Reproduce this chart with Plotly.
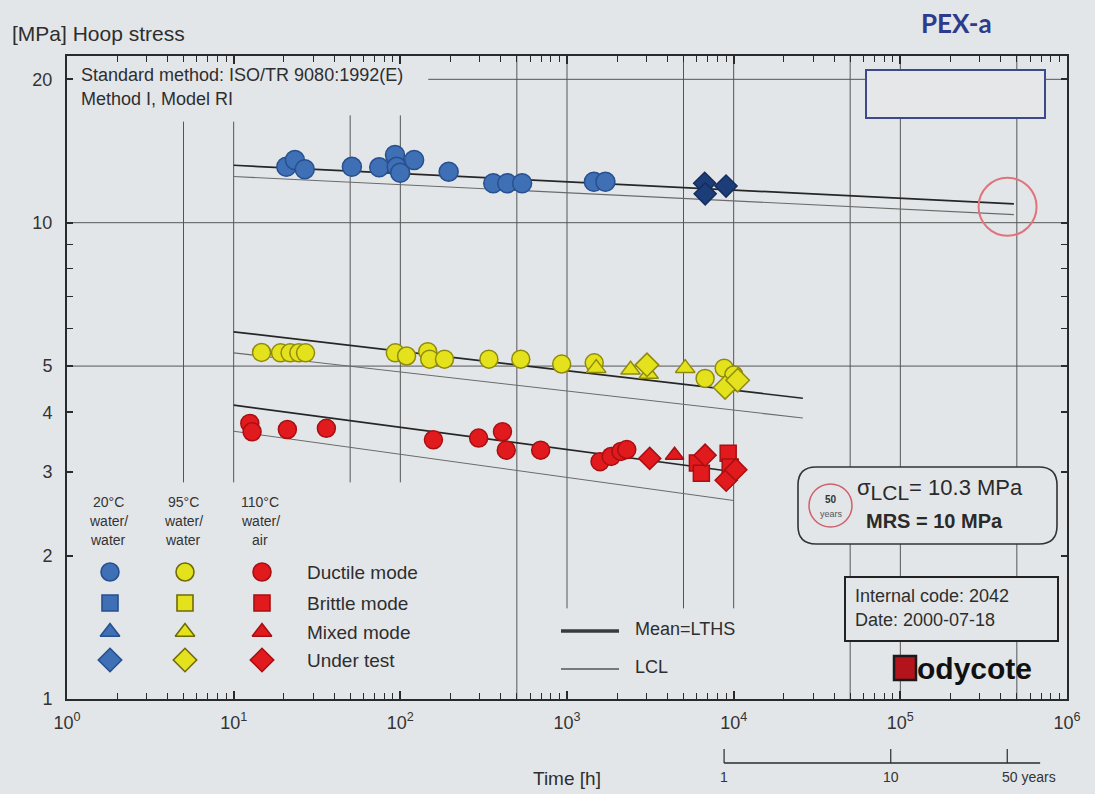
import math
import plotly.graph_objects as go

# ---------------- data ----------------
# 20 degC water/water (blue)
blue_ductile_t = [20.7, 23.3, 26.7, 51.2, 74.7, 92.9, 95.1, 99.8, 121, 195, 361, 438, 538, 1450, 1700]
blue_ductile_s = [13.11, 13.54, 12.95, 13.1, 13.07, 13.87, 13.1, 12.73, 13.54, 12.8, 12.1, 12.1, 12.1, 12.19, 12.19]
blue_test_t = [6700, 6750, 9000]
blue_test_s = [12.1, 11.5, 11.94]

# 95 degC water/water (yellow)
yellow_ductile_t = [14.7, 19.1, 21.8, 24.6, 27.0, 93.3, 109, 146, 150, 184, 340, 528, 929, 1456, 6740, 8770, 10020]
yellow_ductile_s = [5.34, 5.33, 5.33, 5.33, 5.33, 5.33, 5.25, 5.36, 5.17, 5.17, 5.17, 5.17, 5.05, 5.08, 4.71, 4.95, 4.79]
yellow_mixed_t = [1497, 2406, 3089, 5120]
yellow_mixed_s = [4.95, 4.91, 4.81, 4.95]
yellow_test_t = [3019, 8880, 10570]
yellow_test_s = [5.03, 4.51, 4.67]

# 110 degC water/air (red)
red_ductile_t = [12.5, 12.9, 21.0, 36.0, 158, 295, 410, 432, 695, 1578, 1841, 2108, 2284]
red_ductile_s = [3.79, 3.64, 3.68, 3.70, 3.50, 3.53, 3.64, 3.33, 3.33, 3.15, 3.23, 3.31, 3.34]
red_mixed_t = [4420]
red_mixed_s = [3.25]
red_brittle_t = [6060, 6400, 9270, 9530]
red_brittle_s = [3.13, 2.98, 3.28, 3.07]
red_test_t = [3135, 6740, 9020, 10300]
red_test_s = [3.20, 3.25, 2.88, 3.03]

# regression lines (mean = LTHS, LCL)
blue_line_t = [10, 480000]
blue_mean_s = [13.2, 10.95]
blue_lcl_s = [12.5, 10.4]
yellow_line_t = [10, 26000]
yellow_mean_s = [5.90, 4.28]
yellow_lcl_s = [5.33, 3.89]
red_line_t = [10, 10000]
red_mean_s = [4.14, 3.0]
red_lcl_s = [3.65, 2.61]

# 50-year marker on the 20 degC curve
fifty_years_t = [440000]
fifty_years_s = [10.8]

# axis ticks
x_tickvals = [1, 10, 100, 1000, 10000, 100000, 1000000]
x_ticktext = ["10<sup>%d</sup>" % i for i in range(7)]
x_minor = [m * 10 ** d for d in range(6) for m in range(2, 10)]
y_tickvals = [1, 2, 3, 4, 5, 10, 20]
y_ticktext = ["1", "2", "3", "4", "5", "10", "20"]
y_minor = [6, 7, 8, 9]

# vertical grid lines (time) with their vertical extents (stress)
grid_t = [5, 10, 50, 100, 500, 1000, 5000, 10000, 50000, 100000, 500000]
grid_lo = [2.85, 2.85, 2.85, 2.85, 1, 1.55, 1.55, 1.55, 1, 1, 1]
grid_hi = [16.3, 16.3, 16.8, 16.8, 22.4, 22.4, 22.4, 22.4, 22.4, 22.4, 22.4]
hgrid_s = [20, 10, 5]
hgrid_from = [147, 1, 1]

# years scale under the axis
year_hours = [8760, 87600, 438000]
year_labels = ["1", "10", "50 years"]

# ---------------- styling ----------------
FONT = "Liberation Sans, Arial, Helvetica, sans-serif"
BG = "#e3e6e9"
INK = "#2a2a2a"
GRID = "#555555"
BLUE, BLUE_E, BLUE_D = "#3f6fb5", "#26508f", "#1d3d78"
YEL, YEL_E = "#e4e21c", "#8f8a0c"
RED, RED_E = "#e11a1d", "#a80f12"

W, H = 1095, 794
L, R, T, B = 67, 1067, 56, 699


def px(x):
    return (x - L) / (R - L)


def py(y):
    return (B - y) / (B - T)


fig = go.Figure()

# regression lines
for lt, ms, ls in [(blue_line_t, blue_mean_s, blue_lcl_s),
                   (yellow_line_t, yellow_mean_s, yellow_lcl_s),
                   (red_line_t, red_mean_s, red_lcl_s)]:
    fig.add_trace(go.Scatter(x=lt, y=ls, mode="lines", line=dict(color="#6a6a6a", width=1.1),
                             showlegend=False, hoverinfo="skip"))
    fig.add_trace(go.Scatter(x=lt, y=ms, mode="lines", line=dict(color="#262626", width=1.7),
                             showlegend=False, hoverinfo="skip"))

# red circle around the 50-year point
fig.add_trace(go.Scatter(x=fifty_years_t, y=fifty_years_s, mode="markers", showlegend=False,
                         hoverinfo="skip",
                         marker=dict(symbol="circle-open", size=58, color="#e0737b", opacity=1,
                                     line=dict(color="#e0737b", width=2))))


def pts(t, s, symbol, fill, edge, size, name):
    fig.add_trace(go.Scatter(x=t, y=s, mode="markers", name=name, showlegend=False,
                             marker=dict(symbol=symbol, size=size, color=fill, opacity=1,
                                         line=dict(color=edge, width=1.5))))


pts(blue_ductile_t, blue_ductile_s, "circle", BLUE, BLUE_E, 19, "20°C ductile")
pts(blue_test_t, blue_test_s, "diamond", BLUE_D, "#152d5c", 17, "20°C under test")
pts(yellow_ductile_t, yellow_ductile_s, "circle", YEL, YEL_E, 18, "95°C ductile")
pts(yellow_mixed_t, yellow_mixed_s, "triangle-up", YEL, YEL_E, 17, "95°C mixed")
pts(yellow_test_t, yellow_test_s, "diamond", YEL, YEL_E, 18, "95°C under test")
pts(red_ductile_t, red_ductile_s, "circle", RED, RED_E, 18, "110°C ductile")
pts(red_mixed_t, red_mixed_s, "triangle-up", RED, RED_E, 16, "110°C mixed")
pts(red_brittle_t, red_brittle_s, "square", RED, RED_E, 16, "110°C brittle")
pts(red_test_t, red_test_s, "diamond", RED, RED_E, 17, "110°C under test")

# ---------------- hand-made legend on an overlay pixel axis ----------------
LEG_X = [110, 185, 262]
LEG_Y = [572, 603, 632, 660]
LEG_SYM = ["circle", "square", "triangle-up", "diamond"]
LEG_SIZE = [18, 16, 17, 18]
LEG_COL = [(BLUE, BLUE_E), (YEL, "#6f6a08"), (RED, RED_E)]
for (fill, edge), lx in zip(LEG_COL, LEG_X):
    fig.add_trace(go.Scatter(x=[lx] * 4, y=LEG_Y, xaxis="x2", yaxis="y2", mode="markers",
                             showlegend=False, hoverinfo="skip",
                             marker=dict(symbol=LEG_SYM, size=LEG_SIZE, color=fill, opacity=1,
                                         line=dict(color=edge, width=1.6))))

shapes = []
# vertical grid lines
for t, lo, hi in zip(grid_t, grid_lo, grid_hi):
    shapes.append(dict(type="line", xref="x", yref="y", x0=t, x1=t, y0=lo, y1=hi,
                       line=dict(color=GRID, width=1), layer="below"))
# horizontal grid lines
for s, x0 in zip(hgrid_s, hgrid_from):
    shapes.append(dict(type="line", xref="x", yref="y", x0=x0, x1=1e6, y0=s, y1=s,
                       line=dict(color=GRID, width=1), layer="below"))

# empty box at top right
shapes.append(dict(type="rect", xref="x2", yref="y2", x0=866, x1=1045, y0=70, y1=118,
                   fillcolor="#e6e7e8", line=dict(color="#3c4a8c", width=2), layer="below"))

# rounded box with sigma_LCL / MRS
bx0, bx1, by0, by1, rr = 798, 1057, 467, 544, 18
path = (f"M {bx0+rr},{by0} L {bx1-rr},{by0} Q {bx1},{by0} {bx1},{by0+rr} "
        f"L {bx1},{by1-rr} Q {bx1},{by1} {bx1-rr},{by1} L {bx0+rr},{by1} "
        f"Q {bx0},{by1} {bx0},{by1-rr} L {bx0},{by0+rr} Q {bx0},{by0} {bx0+rr},{by0} Z")
shapes.append(dict(type="path", xref="x2", yref="y2", path=path, fillcolor=BG,
                   line=dict(color="#333333", width=1.6), layer="below"))
# small "50 years" circle
shapes.append(dict(type="circle", xref="x2", yref="y2", x0=809, x1=852, y0=484, y1=527,
                   line=dict(color="#d0606c", width=1.5), layer="below"))
# internal code box
shapes.append(dict(type="rect", xref="x2", yref="y2", x0=845, x1=1058, y0=577, y1=641,
                   fillcolor=BG, line=dict(color="#222222", width=2), layer="below"))
# Bodycote logo block
shapes.append(dict(type="rect", xref="x2", yref="y2", x0=894, x1=916, y0=656, y1=680,
                   fillcolor="#b3141c", line=dict(color="#1a1a1a", width=2.5), layer="above"))
# legend line samples
shapes.append(dict(type="line", xref="x2", yref="y2", x0=561, x1=619, y0=631, y1=631,
                   line=dict(color="#3a3a3a", width=3.5)))
shapes.append(dict(type="line", xref="x2", yref="y2", x0=561, x1=619, y0=669, y1=669,
                   line=dict(color="#555555", width=1.5)))

# years scale beneath the x axis
ys_line = py(763)
ys_tick = py(749)
shapes.append(dict(type="line", xref="x", yref="paper", x0=year_hours[0], x1=690000,
                   y0=ys_line, y1=ys_line, line=dict(color=INK, width=1.5)))
for yh in year_hours:
    shapes.append(dict(type="line", xref="x", yref="paper", x0=yh, x1=yh,
                       y0=ys_line, y1=ys_tick, line=dict(color=INK, width=1.2)))

ann = []


def text(x, y, s, size=15, anchor="left", color="#2e2e2e", family=FONT, vanchor="middle"):
    ann.append(dict(x=px(x), y=py(y), xref="paper", yref="paper", text=s, showarrow=False,
                    xanchor=anchor, yanchor=vanchor, font=dict(size=size, color=color, family=family)))


text(10, 33, "[MPa] Hoop stress", 21)
text(79, 75, "Standard method: ISO/TR 9080:1992(E)", 18)
text(79, 99, "Method I, Model RI", 18)
text(956, 23, "<b>PEX-a</b>", 26, anchor="center", color="#2e3a8c", family="Lato, Open Sans, sans-serif")

for cx, lines in zip(LEG_X, [["20°C", "water/", "water"], ["95°C", "water/", "water"],
                             ["110°C", "water/", "air"]]):
    for i, ln in enumerate(lines):
        text(cx - 2, 502 + 19 * i, ln, 14, anchor="center", color="#333333")
for yy, lab in zip(LEG_Y, ["Ductile mode", "Brittle mode", "Mixed mode", "Under test"]):
    text(305, yy, lab, 19)

text(633, 629, "Mean=LTHS", 18)
text(633, 667, "LCL", 18)
text(831, 499, "<b>50</b>", 10, anchor="center", color="#333333")
text(831, 514, "years", 9, anchor="center", color="#555555")
text(855, 489, "σ<sub><span style='font-size:21px'>LCL</span></sub>= 10.3 MPa", 22, color="#2a2a2a")
text(864, 521, "<b>MRS = 10 MPa</b>", 20, color="#2a2a2a")
text(853, 596, "Internal code: 2042", 18)
text(853, 620, "Date: 2000-07-18", 18)
text(915, 668, "<b>odycote</b>", 30, color="#111111")
text(567, 778, "Time [h]", 19, anchor="center")

for yh, lab in zip(year_hours, year_labels):
    ann.append(dict(x=math.log10(yh), y=py(777), xref="x", yref="paper", text=lab,
                    showarrow=False, xanchor="left" if lab.startswith("50") else "center",
                    xshift=-7 if lab.startswith("50") else 0, yanchor="middle",
                    font=dict(size=14, color="#333333", family=FONT)))

axis_common = dict(showgrid=False, zeroline=False, showline=True, linecolor=INK, linewidth=2,
                   mirror="allticks", ticks="inside", tickcolor=INK, tickwidth=1.5,
                   tickfont=dict(size=18, color="#333333", family=FONT))

fig.update_layout(
    width=W, height=H, autosize=False,
    margin=dict(l=L, r=W - R, t=T, b=H - B, pad=0),
    paper_bgcolor=BG, plot_bgcolor=BG,
    showlegend=False,
    hovermode=False,
    xaxis=dict(type="log", range=[0, 6], tickmode="array", tickvals=x_tickvals, ticktext=x_ticktext,
               ticklen=8, ticklabelstandoff=6,
               minor=dict(ticks="inside", tickmode="array", tickvals=x_minor, ticklen=6,
                          tickcolor=INK, tickwidth=1.2, showgrid=False),
               **axis_common),
    yaxis=dict(type="log", range=[0, 1.35], tickmode="array", tickvals=y_tickvals, ticktext=y_ticktext,
               ticklen=6, ticklabelstandoff=9,
               minor=dict(ticks="inside", tickmode="array", tickvals=y_minor, ticklen=6,
                          tickcolor=INK, tickwidth=1.2, showgrid=False),
               **axis_common),
    xaxis2=dict(overlaying="x", range=[L, R], visible=False, fixedrange=True),
    yaxis2=dict(overlaying="y", range=[B, T], visible=False, fixedrange=True),
    shapes=shapes,
    annotations=ann,
)

fig.write_html("out.html", config={"displayModeBar": False},
               post_script="document.body.style.margin='0';document.body.style.background='%s';" % BG)
